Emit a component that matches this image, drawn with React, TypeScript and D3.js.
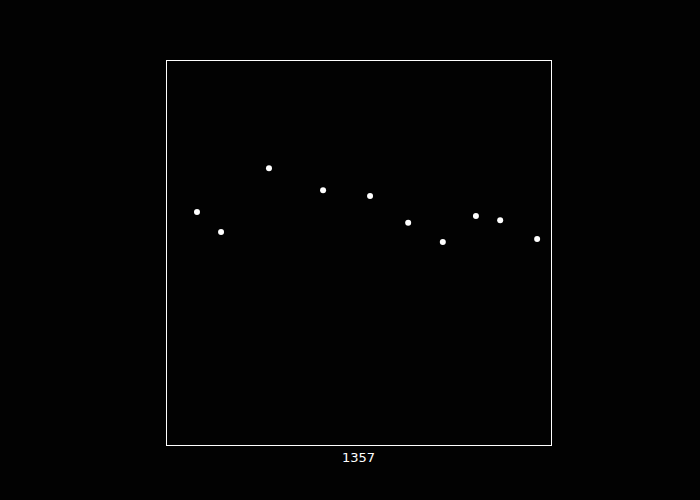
import React from 'react';
import * as d3 from 'd3';

const xValues = [8.05, 14.3, 26.75, 40.8, 53.0, 62.9, 71.9, 80.5, 86.8, 96.4];
const yValues = [60.5, 55.3, 71.9, 66.2, 64.7, 57.7, 52.7, 59.5, 58.4, 53.5];
const xLabel = '1357';

const App = () => {
    const width = 700,
        height = 500;
    const margin = { top: 60, right: 149, bottom: 55, left: 166 };

    const x = d3.scaleLinear().domain([0, 100]).range([margin.left, width - margin.right]);
    const y = d3.scaleLinear().domain([0, 100]).range([height - margin.bottom, margin.top]);

    const points = xValues.map((v, i) => ({ x: v, y: yValues[i] }));

    return (
        <svg
            width={width}
            height={height}
            style={{ position: 'absolute', left: 0, top: 0, background: '#020202' }}
        >
            <rect x={0} y={0} width={width} height={height} fill="#020202" />
            <rect
                x={x(0) + 0.5}
                y={y(100) + 0.5}
                width={x(100) - x(0)}
                height={y(0) - y(100)}
                fill="none"
                stroke="#ffffff"
                strokeWidth={1}
            />
            {points.map((d, i) => (
                <circle key={i} cx={x(d.x)} cy={y(d.y)} r={3} fill="#ffffff" />
            ))}
            <text
                x={(x(0) + x(100)) / 2}
                y={y(0) + 17}
                textAnchor="middle"
                fill="#ffffff"
                fontFamily="DejaVu Sans"
                fontSize={13}
            >
                {xLabel}
            </text>
        </svg>
    );
};

export default App;
